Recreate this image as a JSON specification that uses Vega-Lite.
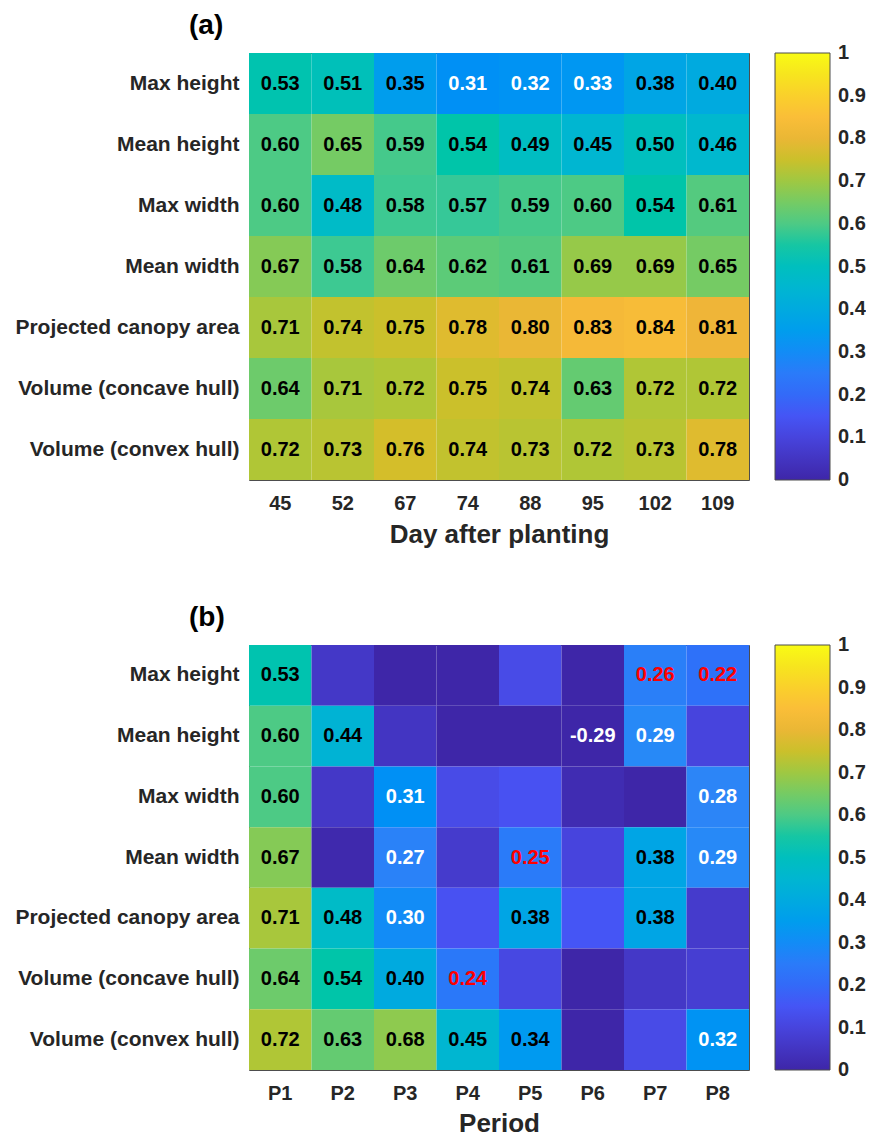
{
  "$schema": "https://vega.github.io/schema/vega-lite/v6.json",
  "background": "white",
  "padding": {"left": 14, "top": 11, "right": 0, "bottom": 0},
  "datasets": {
    "a": [
      {"metric": "Max height", "col": "45", "value": 0.53},
      {"metric": "Max height", "col": "52", "value": 0.51},
      {"metric": "Max height", "col": "67", "value": 0.35},
      {"metric": "Max height", "col": "74", "value": 0.31},
      {"metric": "Max height", "col": "88", "value": 0.32},
      {"metric": "Max height", "col": "95", "value": 0.33},
      {"metric": "Max height", "col": "102", "value": 0.38},
      {"metric": "Max height", "col": "109", "value": 0.40},
      {"metric": "Mean height", "col": "45", "value": 0.60},
      {"metric": "Mean height", "col": "52", "value": 0.65},
      {"metric": "Mean height", "col": "67", "value": 0.59},
      {"metric": "Mean height", "col": "74", "value": 0.54},
      {"metric": "Mean height", "col": "88", "value": 0.49},
      {"metric": "Mean height", "col": "95", "value": 0.45},
      {"metric": "Mean height", "col": "102", "value": 0.50},
      {"metric": "Mean height", "col": "109", "value": 0.46},
      {"metric": "Max width", "col": "45", "value": 0.60},
      {"metric": "Max width", "col": "52", "value": 0.48},
      {"metric": "Max width", "col": "67", "value": 0.58},
      {"metric": "Max width", "col": "74", "value": 0.57},
      {"metric": "Max width", "col": "88", "value": 0.59},
      {"metric": "Max width", "col": "95", "value": 0.60},
      {"metric": "Max width", "col": "102", "value": 0.54},
      {"metric": "Max width", "col": "109", "value": 0.61},
      {"metric": "Mean width", "col": "45", "value": 0.67},
      {"metric": "Mean width", "col": "52", "value": 0.58},
      {"metric": "Mean width", "col": "67", "value": 0.64},
      {"metric": "Mean width", "col": "74", "value": 0.62},
      {"metric": "Mean width", "col": "88", "value": 0.61},
      {"metric": "Mean width", "col": "95", "value": 0.69},
      {"metric": "Mean width", "col": "102", "value": 0.69},
      {"metric": "Mean width", "col": "109", "value": 0.65},
      {"metric": "Projected canopy area", "col": "45", "value": 0.71},
      {"metric": "Projected canopy area", "col": "52", "value": 0.74},
      {"metric": "Projected canopy area", "col": "67", "value": 0.75},
      {"metric": "Projected canopy area", "col": "74", "value": 0.78},
      {"metric": "Projected canopy area", "col": "88", "value": 0.80},
      {"metric": "Projected canopy area", "col": "95", "value": 0.83},
      {"metric": "Projected canopy area", "col": "102", "value": 0.84},
      {"metric": "Projected canopy area", "col": "109", "value": 0.81},
      {"metric": "Volume (concave hull)", "col": "45", "value": 0.64},
      {"metric": "Volume (concave hull)", "col": "52", "value": 0.71},
      {"metric": "Volume (concave hull)", "col": "67", "value": 0.72},
      {"metric": "Volume (concave hull)", "col": "74", "value": 0.75},
      {"metric": "Volume (concave hull)", "col": "88", "value": 0.74},
      {"metric": "Volume (concave hull)", "col": "95", "value": 0.63},
      {"metric": "Volume (concave hull)", "col": "102", "value": 0.72},
      {"metric": "Volume (concave hull)", "col": "109", "value": 0.72},
      {"metric": "Volume (convex hull)", "col": "45", "value": 0.72},
      {"metric": "Volume (convex hull)", "col": "52", "value": 0.73},
      {"metric": "Volume (convex hull)", "col": "67", "value": 0.76},
      {"metric": "Volume (convex hull)", "col": "74", "value": 0.74},
      {"metric": "Volume (convex hull)", "col": "88", "value": 0.73},
      {"metric": "Volume (convex hull)", "col": "95", "value": 0.72},
      {"metric": "Volume (convex hull)", "col": "102", "value": 0.73},
      {"metric": "Volume (convex hull)", "col": "109", "value": 0.78}
    ],
    "b": [
      {"metric": "Max height", "col": "P1", "value": 0.53},
      {"metric": "Max height", "col": "P2", "value": 0.06},
      {"metric": "Max height", "col": "P3", "value": -0.03},
      {"metric": "Max height", "col": "P4", "value": -0.02},
      {"metric": "Max height", "col": "P5", "value": 0.12},
      {"metric": "Max height", "col": "P6", "value": -0.05},
      {"metric": "Max height", "col": "P7", "value": 0.26},
      {"metric": "Max height", "col": "P8", "value": 0.22},
      {"metric": "Mean height", "col": "P1", "value": 0.60},
      {"metric": "Mean height", "col": "P2", "value": 0.44},
      {"metric": "Mean height", "col": "P3", "value": 0.05},
      {"metric": "Mean height", "col": "P4", "value": -0.02},
      {"metric": "Mean height", "col": "P5", "value": -0.03},
      {"metric": "Mean height", "col": "P6", "value": -0.29},
      {"metric": "Mean height", "col": "P7", "value": 0.29},
      {"metric": "Mean height", "col": "P8", "value": 0.10},
      {"metric": "Max width", "col": "P1", "value": 0.60},
      {"metric": "Max width", "col": "P2", "value": 0.06},
      {"metric": "Max width", "col": "P3", "value": 0.31},
      {"metric": "Max width", "col": "P4", "value": 0.12},
      {"metric": "Max width", "col": "P5", "value": 0.14},
      {"metric": "Max width", "col": "P6", "value": 0.02},
      {"metric": "Max width", "col": "P7", "value": 0.0},
      {"metric": "Max width", "col": "P8", "value": 0.28},
      {"metric": "Mean width", "col": "P1", "value": 0.67},
      {"metric": "Mean width", "col": "P2", "value": 0.01},
      {"metric": "Mean width", "col": "P3", "value": 0.27},
      {"metric": "Mean width", "col": "P4", "value": 0.07},
      {"metric": "Mean width", "col": "P5", "value": 0.25},
      {"metric": "Mean width", "col": "P6", "value": 0.10},
      {"metric": "Mean width", "col": "P7", "value": 0.38},
      {"metric": "Mean width", "col": "P8", "value": 0.29},
      {"metric": "Projected canopy area", "col": "P1", "value": 0.71},
      {"metric": "Projected canopy area", "col": "P2", "value": 0.48},
      {"metric": "Projected canopy area", "col": "P3", "value": 0.30},
      {"metric": "Projected canopy area", "col": "P4", "value": 0.14},
      {"metric": "Projected canopy area", "col": "P5", "value": 0.38},
      {"metric": "Projected canopy area", "col": "P6", "value": 0.15},
      {"metric": "Projected canopy area", "col": "P7", "value": 0.38},
      {"metric": "Projected canopy area", "col": "P8", "value": 0.07},
      {"metric": "Volume (concave hull)", "col": "P1", "value": 0.64},
      {"metric": "Volume (concave hull)", "col": "P2", "value": 0.54},
      {"metric": "Volume (concave hull)", "col": "P3", "value": 0.40},
      {"metric": "Volume (concave hull)", "col": "P4", "value": 0.24},
      {"metric": "Volume (concave hull)", "col": "P5", "value": 0.11},
      {"metric": "Volume (concave hull)", "col": "P6", "value": -0.01},
      {"metric": "Volume (concave hull)", "col": "P7", "value": 0.06},
      {"metric": "Volume (concave hull)", "col": "P8", "value": 0.08},
      {"metric": "Volume (convex hull)", "col": "P1", "value": 0.72},
      {"metric": "Volume (convex hull)", "col": "P2", "value": 0.63},
      {"metric": "Volume (convex hull)", "col": "P3", "value": 0.68},
      {"metric": "Volume (convex hull)", "col": "P4", "value": 0.45},
      {"metric": "Volume (convex hull)", "col": "P5", "value": 0.34},
      {"metric": "Volume (convex hull)", "col": "P6", "value": -0.04},
      {"metric": "Volume (convex hull)", "col": "P7", "value": 0.12},
      {"metric": "Volume (convex hull)", "col": "P8", "value": 0.32}
    ]
  },
  "config": {
    "font": "Liberation Sans",
    "view": {"stroke": null},
    "locale": {"number": {"decimal": ".", "thousands": ",", "grouping": [3], "currency": ["$", ""], "minus": "-"}},
    "axis": {
      "labelFont": "Liberation Sans", "labelFontSize": 20, "labelFontWeight": "bold", "labelColor": "#262626", "labelLimit": 0,
      "titleFont": "Liberation Sans", "titleFontSize": 26, "titleFontWeight": "bold", "titleColor": "#262626",
      "domainColor": "#4d4d4d", "domainWidth": 1, "tickColor": "#262626", "tickSize": -5, "tickWidth": 1,
      "labelPadding": 15, "grid": false, "zindex": 1
    },
    "legend": {
      "orient": "right", "offset": 25, "padding": 0, "direction": "vertical",
      "gradientThickness": 55, "gradientStrokeColor": "#4d4d4d", "gradientStrokeWidth": 1,
      "labelFont": "Liberation Sans", "labelFontSize": 20, "labelFontWeight": "bold", "labelColor": "#262626",
      "labelOffset": 9, "labelBaseline": "middle", "labelOverlap": false
    },
    "title": {"font": "Liberation Sans", "fontSize": 28, "fontWeight": "bold", "color": "black", "anchor": "start", "frame": "group", "baseline": "alphabetic", "dx": -60, "offset": 13}
  },
  "spacing": 56,
  "resolve": {
    "scale": {"x": "independent", "y": "independent", "color": "independent"},
    "legend": {"color": "independent"},
    "axis": {"x": "independent", "y": "independent"}
  },
  "vconcat": [
    {
      "title": {"text": "(a)", "frame": "group", "anchor": "start", "dx": -60},
      "width": 500,
      "height": 427,
      "data": {"name": "a"},
      "resolve": {"axis": {"x": "independent", "y": "independent"}},
      "layer": [
        {
          "mark": {"type": "rect"},
          "encoding": {
            "x": {"field": "col", "type": "nominal", "sort": ["45", "52", "67", "74", "88", "95", "102", "109"], "scale": {"paddingInner": 0, "paddingOuter": 0}, "axis": {"title": "Day after planting", "orient": "bottom", "labelAngle": 0, "labelPadding": 18, "titlePadding": 8}},
            "y": {"field": "metric", "type": "nominal", "sort": ["Max height", "Mean height", "Max width", "Mean width", "Projected canopy area", "Volume (concave hull)", "Volume (convex hull)"], "scale": {"paddingInner": 0, "paddingOuter": 0}, "axis": {"title": null, "orient": "left", "labelFontSize": 21, "labelLimit": 0}},
            "color": {"field": "value", "type": "quantitative",
              "scale": {"domain": [0, 0.143, 0.286, 0.429, 0.571, 0.714, 0.76, 0.81, 0.86, 0.93, 1], "range": ["#3e26a8", "#4852f4", "#2d87f7", "#12b1d6", "#37c897", "#abc739", "#d4be2a", "#efb538", "#fdc038", "#f5dd22", "#f9fb14"], "clamp": true},
              "legend": {"title": null, "gradientLength": 427, "labelOffset": 9, "values": [0, 0.1, 0.2, 0.3, 0.4, 0.5, 0.6, 0.7, 0.8, 0.9, 1], "format": "~g", "encode": {"labels": {"update": {"baseline": {"value": "middle"}, "x": {"value": 63}}}}}}
          }
        },
        {
          "transform": [{"filter": "abs(datum.value) >= 0.2"}],
          "mark": {"type": "text", "font": "Liberation Sans", "fontSize": 20, "fontWeight": "bold"},
          "encoding": {
            "x": {"field": "col", "type": "nominal", "sort": ["45", "52", "67", "74", "88", "95", "102", "109"], "scale": {"paddingInner": 0, "paddingOuter": 0}, "axis": {"title": null, "orient": "top", "labels": false}},
            "y": {"field": "metric", "type": "nominal", "sort": ["Max height", "Mean height", "Max width", "Mean width", "Projected canopy area", "Volume (concave hull)", "Volume (convex hull)"], "scale": {"paddingInner": 0, "paddingOuter": 0}, "axis": {"title": null, "orient": "right", "labels": false}},
            "text": {"field": "value", "type": "quantitative", "format": ".2f"},
            "color": {"condition": [{"test": "datum.value >= 0.335", "value": "black"}, {"test": "datum.value >= 0.2 && datum.value < 0.265", "value": "red"}], "value": "white"}
          }
        }
      ]
    },
    {
      "title": {"text": "(b)", "frame": "group", "anchor": "start", "dx": -60},
      "width": 500,
      "height": 425,
      "data": {"name": "b"},
      "resolve": {"axis": {"x": "independent", "y": "independent"}},
      "layer": [
        {
          "mark": {"type": "rect"},
          "encoding": {
            "x": {"field": "col", "type": "nominal", "sort": ["P1", "P2", "P3", "P4", "P5", "P6", "P7", "P8"], "scale": {"paddingInner": 0, "paddingOuter": 0}, "axis": {"title": "Period", "orient": "bottom", "labelAngle": 0, "labelPadding": 18, "titlePadding": 7}},
            "y": {"field": "metric", "type": "nominal", "sort": ["Max height", "Mean height", "Max width", "Mean width", "Projected canopy area", "Volume (concave hull)", "Volume (convex hull)"], "scale": {"paddingInner": 0, "paddingOuter": 0}, "axis": {"title": null, "orient": "left", "labelFontSize": 21, "labelLimit": 0}},
            "color": {"field": "value", "type": "quantitative",
              "scale": {"domain": [0, 0.143, 0.286, 0.429, 0.571, 0.714, 0.76, 0.81, 0.86, 0.93, 1], "range": ["#3e26a8", "#4852f4", "#2d87f7", "#12b1d6", "#37c897", "#abc739", "#d4be2a", "#efb538", "#fdc038", "#f5dd22", "#f9fb14"], "clamp": true},
              "legend": {"title": null, "gradientLength": 425, "labelOffset": 9, "values": [0, 0.1, 0.2, 0.3, 0.4, 0.5, 0.6, 0.7, 0.8, 0.9, 1], "format": "~g", "encode": {"labels": {"update": {"baseline": {"value": "middle"}, "x": {"value": 63}}}}}}
          }
        },
        {
          "transform": [{"filter": "abs(datum.value) >= 0.2"}],
          "mark": {"type": "text", "font": "Liberation Sans", "fontSize": 20, "fontWeight": "bold"},
          "encoding": {
            "x": {"field": "col", "type": "nominal", "sort": ["P1", "P2", "P3", "P4", "P5", "P6", "P7", "P8"], "scale": {"paddingInner": 0, "paddingOuter": 0}, "axis": {"title": null, "orient": "top", "labels": false}},
            "y": {"field": "metric", "type": "nominal", "sort": ["Max height", "Mean height", "Max width", "Mean width", "Projected canopy area", "Volume (concave hull)", "Volume (convex hull)"], "scale": {"paddingInner": 0, "paddingOuter": 0}, "axis": {"title": null, "orient": "right", "labels": false}},
            "text": {"field": "value", "type": "quantitative", "format": ".2f"},
            "color": {"condition": [{"test": "datum.value >= 0.335", "value": "black"}, {"test": "datum.value >= 0.2 && datum.value < 0.265", "value": "red"}], "value": "white"}
          }
        }
      ]
    }
  ]
}
